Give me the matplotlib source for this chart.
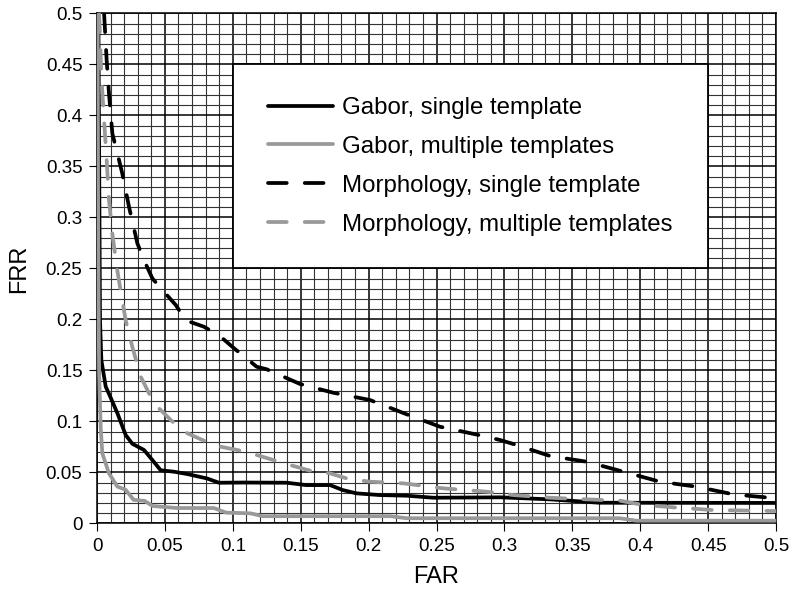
import numpy as np
import matplotlib.pyplot as plt
from matplotlib.patches import Rectangle
from matplotlib.ticker import MultipleLocator, FuncFormatter

plt.rcParams['font.family'] = ['Liberation Sans', 'DejaVu Sans']

# FAR / FRR operating points for each matcher
gabor_single_far = [0.001, 0.0022, 0.0032, 0.0064, 0.0088, 0.015, 0.0211, 0.026, 0.0346,
                    0.0408, 0.0469, 0.0567, 0.0665, 0.081, 0.0898, 0.108, 0.1397, 0.154,
                    0.1716, 0.181, 0.191, 0.2084, 0.228, 0.2477, 0.297, 0.3336, 0.37, 0.5]
gabor_single_frr = [0.5, 0.199, 0.16, 0.134, 0.127, 0.108, 0.0866, 0.078, 0.0719,
                    0.062, 0.052, 0.0506, 0.0483, 0.044, 0.0398, 0.04, 0.0398, 0.0375,
                    0.0375, 0.0326, 0.0294, 0.0277, 0.0271, 0.0251, 0.0255, 0.0235, 0.0202, 0.02]

gabor_multi_far = [0.0005, 0.0008, 0.0015, 0.0027, 0.0039, 0.0088, 0.015, 0.021, 0.027,
                   0.035, 0.041, 0.059, 0.086, 0.095, 0.113, 0.122, 0.216, 0.228, 0.385,
                   0.397, 0.5]
gabor_multi_frr = [0.5, 0.3, 0.15, 0.094, 0.0686, 0.049, 0.036, 0.033, 0.023,
                   0.022, 0.017, 0.015, 0.015, 0.0105, 0.0098, 0.007, 0.007, 0.005, 0.005,
                   0.0026, 0.0026]

morph_single_far = [0.0052, 0.0071, 0.0088, 0.0113, 0.015, 0.0186, 0.0236, 0.0297, 0.0346,
                    0.0408, 0.0493, 0.058, 0.0653, 0.0788, 0.091, 0.1009, 0.11, 0.1176,
                    0.125, 0.1495, 0.174, 0.201, 0.228, 0.2526, 0.281, 0.2968, 0.309,
                    0.3336, 0.3606, 0.3876, 0.4146, 0.4416, 0.4686, 0.5]
morph_single_frr = [0.5, 0.454, 0.4216, 0.382, 0.3627, 0.343, 0.31, 0.2745, 0.258,
                    0.24, 0.227, 0.214, 0.199, 0.1927, 0.183, 0.1716, 0.1618, 0.1535,
                    0.151, 0.1366, 0.128, 0.1209, 0.1069, 0.0947, 0.0866, 0.0817, 0.0768,
                    0.066, 0.0604, 0.0506, 0.0408, 0.0359, 0.0284, 0.0245]

morph_multi_far = [0.0015, 0.0022, 0.0032, 0.0052, 0.0071, 0.0088, 0.0113, 0.0145, 0.0169,
                   0.0211, 0.026, 0.0322, 0.0383, 0.0444, 0.0543, 0.064, 0.0776, 0.091,
                   0.1058, 0.1176, 0.142, 0.157, 0.1716, 0.184, 0.201, 0.2256, 0.255,
                   0.287, 0.3066, 0.3336, 0.3606, 0.385, 0.4023, 0.4244, 0.4538, 0.4858, 0.5]
morph_multi_frr = [0.5, 0.477, 0.438, 0.395, 0.3562, 0.317, 0.284, 0.2516, 0.232,
                   0.199, 0.173, 0.1437, 0.1275, 0.1143, 0.1013, 0.0898, 0.0817, 0.0751,
                   0.0712, 0.067, 0.0572, 0.0516, 0.049, 0.044, 0.0408, 0.0392, 0.0343,
                   0.031, 0.0277, 0.0251, 0.0235, 0.0222, 0.018, 0.0157, 0.013, 0.0124, 0.012]

labels = ['Gabor, single template', 'Gabor, multiple templates',
          'Morphology, single template', 'Morphology, multiple templates']

GRAY = '#999999'

fig = plt.figure(figsize=(7.92, 5.97), dpi=100)
ax = fig.add_axes([0.1225, 0.1234, 0.8573, 0.8543])

dash = (0, (5, 4.8))
common = dict(lw=2.7, solid_capstyle='round', dash_capstyle='round', zorder=3)
ax.plot(gabor_single_far, gabor_single_frr, color='black', label=labels[0], **common)
ax.plot(gabor_multi_far, gabor_multi_frr, color=GRAY, label=labels[1], **common)
ax.plot(morph_single_far, morph_single_frr, color='black', ls=dash, label=labels[2], **common)
ax.plot(morph_multi_far, morph_multi_frr, color=GRAY, ls=dash, label=labels[3], **common)

ax.set_xlim(0, 0.5)
ax.set_ylim(0, 0.5)
for axis in (ax.xaxis, ax.yaxis):
    axis.set_major_locator(MultipleLocator(0.05))
    axis.set_minor_locator(MultipleLocator(0.01))
    axis.set_major_formatter(FuncFormatter(lambda v, p: f'{v:.2f}'.rstrip('0').rstrip('.') if v else '0'))

ax.grid(which='major', color='black', lw=1.1, zorder=1)
ax.grid(which='minor', color='#333333', lw=0.8, zorder=1)
ax.set_axisbelow(True)
ax.tick_params(which='major', direction='out', length=5.5, width=0.8, labelsize=13.5, pad=5)
ax.tick_params(which='minor', length=0)
for s in ax.spines.values():
    s.set_linewidth(1.1)

ax.set_xlabel('FAR', fontsize=17, labelpad=8)
ax.set_ylabel('FRR', fontsize=17, labelpad=11)

# legend panel sitting inside the grid
ax.add_patch(Rectangle((0.1, 0.25), 0.35, 0.2, facecolor='white', edgecolor='black',
                       lw=1.3, zorder=4))
leg = ax.legend(loc='center', bbox_to_anchor=(0.275, 0.35), bbox_transform=ax.transData,
                frameon=False, fontsize=17.3, handlelength=2.7, handletextpad=0.37,
                labelspacing=0.7, borderaxespad=0)
leg.set_zorder(5)

fig.savefig('out.png', dpi=100)
